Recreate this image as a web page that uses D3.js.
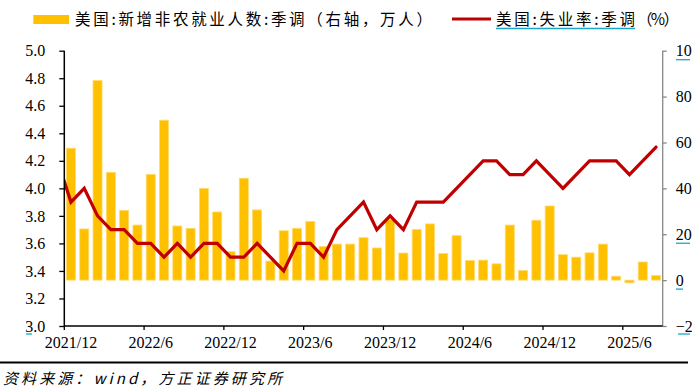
<!DOCTYPE html>
<html><head><meta charset="utf-8">
<script src="https://cdn.jsdelivr.net/npm/d3@7/dist/d3.min.js"></script>
<style>
html,body{margin:0;padding:0;background:#fff;}
svg{display:block;}
</style></head>
<body>
<svg id="c" width="692" height="392"></svg>
<script>
const months = ["2021/12","2022/1","2022/2","2022/3","2022/4","2022/5","2022/6","2022/7","2022/8","2022/9","2022/10","2022/11",
"2022/12","2023/1","2023/2","2023/3","2023/4","2023/5","2023/6","2023/7","2023/8","2023/9","2023/10","2023/11",
"2023/12","2024/1","2024/2","2024/3","2024/4","2024/5","2024/6","2024/7","2024/8","2024/9","2024/10","2024/11",
"2024/12","2025/1","2025/2","2025/3","2025/4","2025/5","2025/6","2025/7","2025/8"];
// 新增非农就业人数 (万人, right axis)
const payrolls = [57.5,22.3,87.0,47.0,30.4,24.0,46.1,69.7,23.6,22.6,40.0,29.7,
12.4,44.4,30.6,8.3,21.5,22.6,25.6,14.7,15.7,15.7,18.5,14.0,
26.5,11.8,22.1,24.5,11.6,19.4,8.6,8.7,7.1,24.0,4.2,26.1,
32.3,11.1,10.0,11.9,15.7,1.7,-1.2,7.9,2.0];
// 失业率 (%, left axis)
const unemployment = [3.9,4.0,3.8,3.7,3.7,3.6,3.6,3.5,3.6,3.5,3.6,3.6,
3.5,3.5,3.6,3.5,3.4,3.6,3.6,3.5,3.7,3.8,3.9,3.7,
3.8,3.7,3.9,3.9,3.9,4.0,4.1,4.2,4.2,4.1,4.1,4.2,
4.1,4.0,4.1,4.2,4.2,4.2,4.1,4.2,4.3];
const unemploymentPrev = 4.2; // 2021/11, partly visible at left edge
const xTickLabels = ["2021/12","2022/6","2022/12","2023/6","2023/12","2024/6","2024/12","2025/6"];
const leftTicks = [3.0,3.2,3.4,3.6,3.8,4.0,4.2,4.4,4.6,4.8,5.0];
const rightTicks = [-20,0,20,40,60,80,100];
const legendBar = "美国:新增非农就业人数:季调（右轴，万人）";
const legendLine = "美国:失业率:季调";
const legendLineUnit = "（%）";
const source = "资料来源：wind，方正证券研究所";

const svg = d3.select("#c");
const L = 64.3, R = 662.7, T = 50.7, B = 326;
const serif = "'Liberation Serif','Times New Roman',serif";
const cjk = "'Noto Sans CJK SC','Noto Sans CJK JP',sans-serif";

const x = d3.scaleBand().domain(months).range([L, R]).padding(0);
const step = x.step();
const barW = step * 0.68;
const yL = d3.scaleLinear().domain([3, 5]).range([B, T]);
const yR = d3.scaleLinear().domain([-20, 100]).range([B, T]);

// bars
svg.append("g").selectAll("rect").data(months).join("rect")
  .attr("x", (d) => x(d) + (step - barW) / 2)
  .attr("width", barW)
  .attr("y", (d, i) => Math.min(yR(payrolls[i]), yR(0)))
  .attr("height", (d, i) => Math.abs(yR(payrolls[i]) - yR(0)))
  .attr("fill", "#FFC000")
  .attr("stroke", "#FFDA70")
  .attr("stroke-width", 0.8);

// line
svg.append("defs").append("clipPath").attr("id", "clip")
  .append("rect").attr("x", L).attr("y", 0).attr("width", R - L + 10).attr("height", 392);
const pts = [[x(months[0]) - step / 2, yL(unemploymentPrev)]]
  .concat(months.map((m, i) => [x(m) + step / 2, yL(unemployment[i])]));
svg.append("path")
  .attr("d", d3.line()(pts))
  .attr("clip-path", "url(#clip)")
  .attr("fill", "none")
  .attr("stroke", "#C00000")
  .attr("stroke-width", 3.2)
  .attr("stroke-linejoin", "miter")
  .attr("stroke-linecap", "round");

// left axis
const gL = svg.append("g").attr("transform", `translate(${L},0)`)
  .call(d3.axisLeft(yL).tickValues(leftTicks).tickFormat(d3.format(".1f")).tickSize(5).tickPadding(14));
gL.select(".domain").attr("d", `M0,${T}V${B}`).attr("stroke", "#000").attr("stroke-width", 1.5);
gL.selectAll(".tick line").attr("stroke", "#000").attr("stroke-width", 1.3);
gL.selectAll(".tick text").attr("font-family", serif).attr("font-size", 16).attr("fill", "#000");

// right axis
const gR = svg.append("g").attr("transform", `translate(${R},0)`)
  .call(d3.axisRight(yR).tickValues(rightTicks).tickSize(4).tickPadding(9));
gR.select(".domain").attr("d", `M0,${T}V${B}`).attr("stroke", "#888").attr("stroke-width", 1.3);
gR.selectAll(".tick line").attr("stroke", "#888").attr("stroke-width", 1.3);
gR.selectAll(".tick text").attr("font-family", serif).attr("font-size", 16).attr("fill", "#000");

// bottom axis
const gB = svg.append("g").attr("transform", `translate(0,${B})`)
  .call(d3.axisBottom(x).tickValues(xTickLabels).tickSize(0).tickPadding(11));
gB.select(".domain").attr("d", `M${L},0H${R}`).attr("stroke", "#000").attr("stroke-width", 1.5);
gB.selectAll(".tick text").attr("font-family", serif).attr("font-size", 16).attr("fill", "#000");
gB.append("g").selectAll("line").data(xTickLabels).join("line")
  .attr("x1", (d) => x(d)).attr("x2", (d) => x(d))
  .attr("y1", 0).attr("y2", 4).attr("stroke", "#000").attr("stroke-width", 1.3);

// cyan underline marks (as in reference)
const cyan = "#1AA7C9";
const under = [[676, 690, yR(100) + 9], [676, 690, yR(20) + 9], [676, 683, yR(0) + 9], [678, 690, yR(-20) + 8], [26, 32, yL(3) + 8]];
svg.append("g").selectAll("line").data(under).join("line")
  .attr("x1", (d) => d[0]).attr("x2", (d) => d[1]).attr("y1", (d) => d[2]).attr("y2", (d) => d[2])
  .attr("stroke", cyan).attr("stroke-width", 1.3);

// legend
svg.append("rect").attr("x", 33.3).attr("y", 15).attr("width", 35.7).attr("height", 9).attr("fill", "#FFC000");
svg.append("text").attr("x", 75).attr("y", 24.5).attr("font-family", cjk).attr("font-size", 15.5)
  .attr("textLength", 357).attr("lengthAdjust", "spacing").attr("fill", "#000").text(legendBar);
svg.append("line").attr("x1", 452).attr("x2", 491).attr("y1", 19).attr("y2", 19)
  .attr("stroke", "#C00000").attr("stroke-width", 3.2);
svg.append("text").attr("x", 496).attr("y", 24.5).attr("font-family", cjk).attr("font-size", 15.5)
  .attr("textLength", 139).attr("lengthAdjust", "spacing").attr("fill", "#000").text(legendLine);
svg.append("text").attr("x", 637).attr("y", 24.5).attr("font-family", cjk).attr("font-size", 15.5)
  .attr("textLength", 42).attr("lengthAdjust", "spacing").attr("fill", "#000").text(legendLineUnit);
svg.append("line").attr("x1", 496).attr("x2", 635).attr("y1", 28.5).attr("y2", 28.5)
  .attr("stroke", cyan).attr("stroke-width", 1.5);

// footer
svg.append("line").attr("x1", 0).attr("x2", 688).attr("y1", 362.5).attr("y2", 362.5)
  .attr("stroke", "#000").attr("stroke-width", 2);
svg.append("text").attr("x", 3).attr("y", 383.5).attr("font-family", cjk).attr("font-size", 15)
  .attr("font-style", "italic").attr("textLength", 279).attr("lengthAdjust", "spacing")
  .attr("fill", "#000").text(source);
</script>
</body></html>
